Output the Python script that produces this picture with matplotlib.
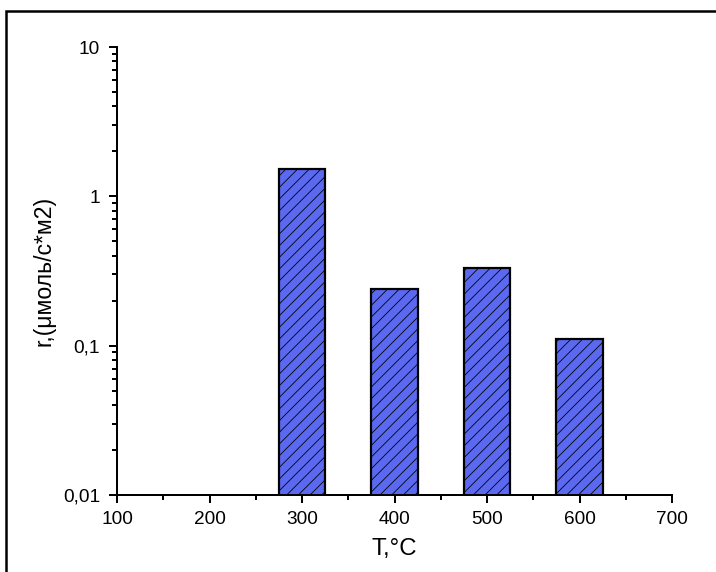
import matplotlib
matplotlib.use("Agg")
import matplotlib.pyplot as plt
from matplotlib.patches import Rectangle
from matplotlib.ticker import FixedLocator, FuncFormatter, LogLocator, NullFormatter, MultipleLocator

# Reaction rate vs temperature
temperatures = [300, 400, 500, 600]
rates = [1.52, 0.239, 0.331, 0.111]
ytick_values = [0.01, 0.1, 1, 10]
ytick_labels = ["0,01", "0,1", "1", "10"]
xtick_values = [100, 200, 300, 400, 500, 600, 700]

DPI = 70
W, H = 716, 572


def pt(px):
    return px * 72.0 / DPI


plt.rcParams["font.family"] = ["Liberation Sans", "DejaVu Sans"]
plt.rcParams["hatch.color"] = "#222a78"
plt.rcParams["hatch.linewidth"] = pt(0.8)

fig = plt.figure(figsize=(W / DPI, H / DPI), dpi=DPI)
ax = fig.add_axes([117 / W, 1 - 495 / H, (672 - 117) / W, (495 - 47) / H])

ax.bar(temperatures, rates, width=50, bottom=0.0001, color="#5a69f0",
       edgecolor="black", linewidth=pt(2.2), hatch="//", zorder=2)

ax.set_yscale("log")
ax.set_ylim(0.01, 10)
ax.set_xlim(100, 700)

ax.yaxis.set_major_locator(FixedLocator(ytick_values))
ax.yaxis.set_major_formatter(FuncFormatter(
    lambda v, p: ytick_labels[ytick_values.index(min(ytick_values, key=lambda t: abs(t - v)))]))
ax.yaxis.set_minor_locator(LogLocator(base=10, subs=range(2, 10)))
ax.yaxis.set_minor_formatter(NullFormatter())
ax.xaxis.set_major_locator(FixedLocator(xtick_values))
ax.xaxis.set_minor_locator(MultipleLocator(50))

for side in ("top", "right"):
    ax.spines[side].set_visible(False)
for side in ("left", "bottom"):
    ax.spines[side].set_linewidth(pt(2))
    ax.spines[side].set_zorder(3)

ax.tick_params(which="major", direction="out", length=pt(8), width=pt(2),
               labelsize=pt(19), pad=pt(8))
ax.tick_params(which="minor", direction="out", length=pt(4.5), width=pt(2))
ax.tick_params(axis="y", which="major", pad=pt(9))

ax.set_xlabel("T,°C", fontsize=pt(24), labelpad=pt(10))
ax.set_ylabel("r,(μмоль/с*м2)", fontsize=pt(23), labelpad=pt(7))

# outer frame around the figure
fig.patches.append(Rectangle((6 / W, -0.2), 1.2, 1 - 11 / H + 0.2,
                             transform=fig.transFigure, fill=False,
                             edgecolor="black", linewidth=pt(2.5)))

fig.savefig("out.png", dpi=DPI)
